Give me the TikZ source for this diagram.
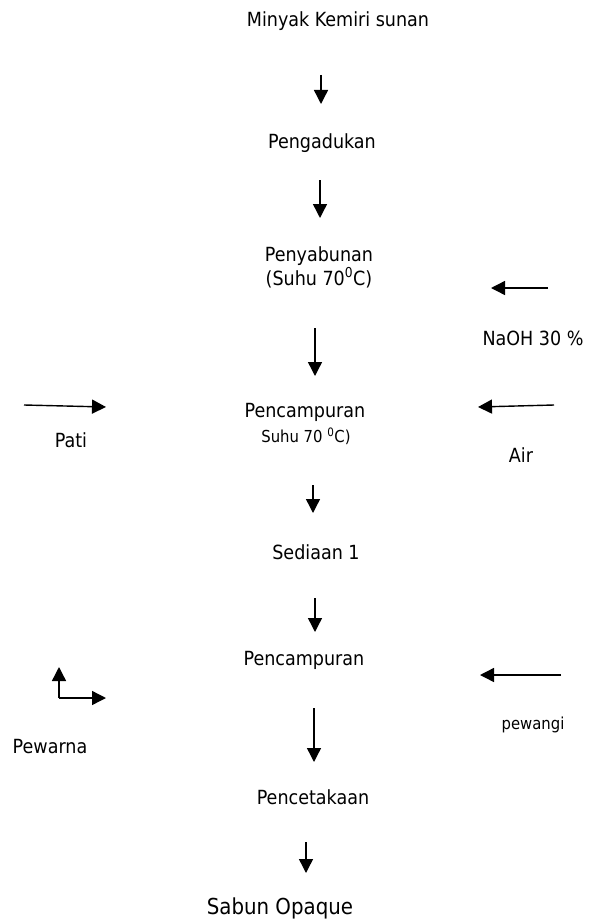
\documentclass[tikz,border=0pt]{standalone}
\usepackage{fontspec}
\setmainfont{DejaVu Sans Condensed}
\usetikzlibrary{arrows.meta}
\begin{document}
\begin{tikzpicture}[x=1pt,y=-1pt,
  lbl/.style={inner sep=0pt, font=\fontsize{19.5}{24}\selectfont, align=center},
  sml/.style={inner sep=0pt, font=\fontsize{16.5}{20}\selectfont},
  big/.style={inner sep=0pt, font=\fontsize{22}{26}\selectfont},
  flow/.style={line width=1.4pt, -{Triangle[width=14pt,length=14pt]}}]
\useasboundingbox (0,0) rectangle (595,923);

% process steps
\node[lbl] (minyak) at (338,21) {Minyak Kemiri sunan};
\node[lbl] (aduk) at (322,143) {Pengadukan};
\node[lbl] (sabun) at (319,267) {Penyabunan\\(Suhu 70\textsuperscript{0}C)};
\node[lbl] (campur1) at (305,412) {Pencampuran};
\node[sml] (suhu2) at (306,436) {Suhu 70 \textsuperscript{0}C)};
\node[lbl] (sediaan) at (316,552) {Sediaan 1};
\node[lbl] (campur2) at (304,660) {Pencampuran};
\node[lbl] (cetak) at (313,797) {Pencetakaan};
\node[big] (hasil) at (280,908) {Sabun Opaque};

% side inputs
\node[lbl] (naoh) at (533,338) {NaOH 30 \%};
\node[lbl] (pati) at (71,440) {Pati};
\node[lbl] (air) at (521,455) {Air};
\node[sml] (wangi) at (533,725) {pewangi};
\node[lbl] (warna) at (50,747) {Pewarna};

% arrow end points
\coordinate (a1s) at (321,75);  \coordinate (a1e) at (321,104);
\coordinate (a2s) at (320,180); \coordinate (a2e) at (320,218);
\coordinate (a3s) at (315,328); \coordinate (a3e) at (315,376);
\coordinate (a4s) at (313,485); \coordinate (a4e) at (313,513);
\coordinate (a5s) at (315,598); \coordinate (a5e) at (315,632);
\coordinate (a6s) at (314,708); \coordinate (a6e) at (314,762);
\coordinate (a7s) at (306,842); \coordinate (a7e) at (306,873);

\coordinate (naohs) at (548,288); \coordinate (naohe) at (491,288);
\coordinate (patis) at (24,405);  \coordinate (patie) at (106,407);
\coordinate (airs) at (554,405);  \coordinate (aire) at (478,407);
\coordinate (wangis) at (561,675); \coordinate (wangie) at (480,675);
\coordinate (warnac) at (59,698);
\coordinate (warnau) at (59,667); \coordinate (warnar) at (106,698);

% main flow
\draw[flow] (a1s) -- (a1e);
\draw[flow] (a2s) -- (a2e);
\draw[flow] (a3s) -- (a3e);
\draw[flow] (a4s) -- (a4e);
\draw[flow] (a5s) -- (a5e);
\draw[flow] (a6s) -- (a6e);
\draw[flow] (a7s) -- (a7e);

% side arrows
\draw[flow] (naohs) -- (naohe);
\draw[flow] (patis) -- (patie);
\draw[flow] (airs) -- (aire);
\draw[flow] (wangis) -- (wangie);
\draw[flow] (warnac) -- (warnau);
\draw[flow] (warnac) -- (warnar);
\end{tikzpicture}
\end{document}
